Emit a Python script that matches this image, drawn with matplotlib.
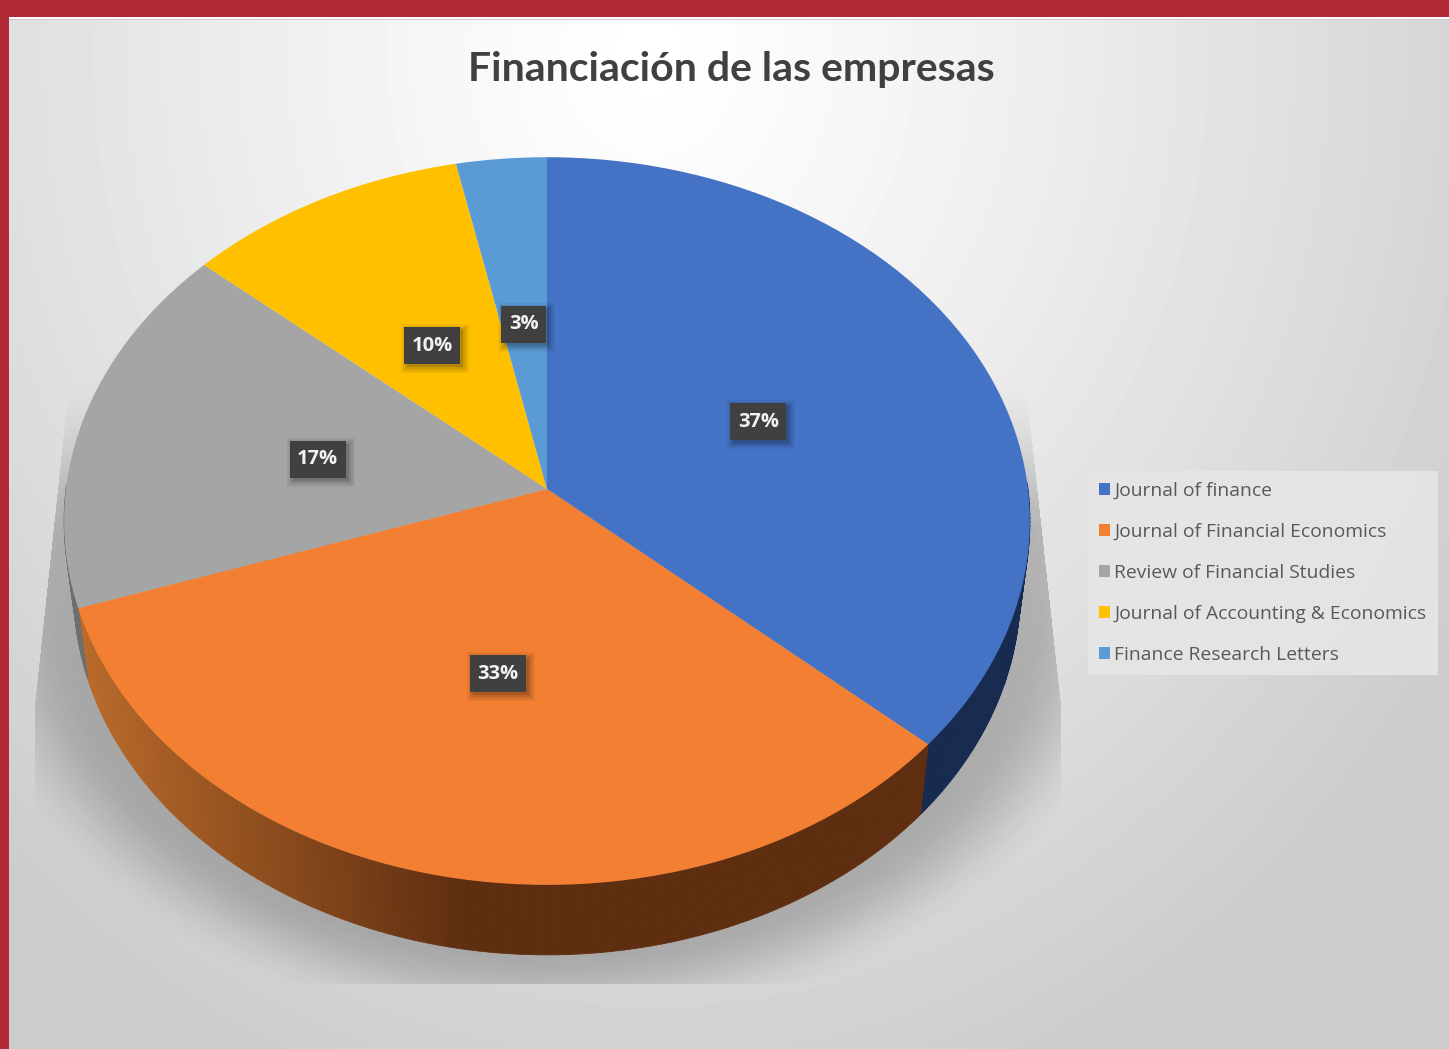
import numpy as np
import matplotlib
matplotlib.use("Agg")
import matplotlib.pyplot as plt
from matplotlib.transforms import Transform
from matplotlib.collections import PolyCollection
from matplotlib.patches import Rectangle
from matplotlib.colors import to_rgb

W, H = 1449, 1049

# ---- data ----
title = "Financiación de las empresas"
journals = ["Journal of finance", "Journal of Financial Economics",
            "Review of Financial Studies", "Journal of Accounting & Economics",
            "Finance Research Letters"]
shares = [36.6, 33.2, 16.6, 10.3, 3.3]
colors = ["#4472C4", "#F27F32", "#A5A5A5", "#FFC000", "#5B9BD5"]
side_colors = ["#172B50", "#5F2E10", "#6E6E6E", "#8A6A00", "#2F5F8F"]

# ---- geometry of the tilted pie (pixels) ----
CX, CY, RX, RY, K = 547.0, 489.0, 481.0, 361.0, 0.088
DEPTH, SHRINK = 70.0, 0.98


def project(x, y, shrink=1.0, drop=0.0):
    d = 1 + K * y
    return CX + shrink * RX * x / d, CY - RY * y / d + drop


class Tilt(Transform):
    input_dims = 2
    output_dims = 2
    is_separable = False
    has_inverse = False

    def transform_non_affine(self, values):
        v = np.asarray(values, float)
        px, py = project(v[:, 0], v[:, 1])
        return np.column_stack([px, py])


fig = plt.figure(figsize=(W / 100, H / 100), dpi=100)
ax = fig.add_axes([0, 0, 1, 1])

# ---- backdrop gradient ----
yy, xx = np.mgrid[0:H, 0:W]
dist = np.sqrt(((xx - 650) / 950.0) ** 2 + ((yy - 55) / 1100.0) ** 2)
grey = np.clip(1.0 - 0.2 * dist ** 1.2, 0.80, 1)
ax.imshow(grey, cmap="gray", vmin=0, vmax=1, extent=(0, W, H, 0),
          zorder=0, aspect="auto", interpolation="bilinear")

# ---- soft floor shadow ----
def smooth(a, b, v):
    t = np.clip((v - a) / (b - a), 0, 1)
    return t * t * (3 - 2 * t)

d = np.sqrt(((xx - 547) / 545.0) ** 2 + ((yy - 600) / 395.0) ** 2)
alpha = 0.22 * (1 - smooth(0.88, 1.1, d)) * smooth(360, 540, yy)
left = np.interp(yy, [390, 700, 983], [68, 35, 35])
right = np.interp(yy, [390, 700, 983], [1026, 1060, 1060])
alpha[(xx < left) | (xx > right) | (yy > 983)] = 0
shadow = np.zeros((H, W, 4))
shadow[..., 3] = alpha
ax.imshow(shadow, extent=(0, W, H, 0), zorder=1, aspect="auto")

# ---- pie top face ----
wedges, _ = ax.pie(shares, colors=colors, startangle=90, counterclock=False,
                   radius=1, wedgeprops=dict(linewidth=0, zorder=4))
tilt = Tilt()
for w in wedges:
    w.set_transform(tilt + ax.transData)
    w.set_zorder(4)

# ---- pie side wall, strip by strip from the shares ----
fracs = np.array(shares, float) / sum(shares)
edges = np.concatenate([[0], np.cumsum(fracs)])
polys, fills = [], []
orange_left, orange_right = np.array(to_rgb("#BB6B2B")), np.array(to_rgb(side_colors[1]))
for i in range(len(shares)):
    ts = np.linspace(edges[i], edges[i + 1], max(8, int(600 * fracs[i])) + 1)
    ang = np.pi / 2 - 2 * np.pi * ts
    x, y = np.cos(ang), np.sin(ang)
    ux, uy = project(x, y)
    lx, ly = project(x, y, SHRINK, DEPTH)
    for j in range(len(ts) - 1):
        if y[j] > 0.02 or y[j + 1] > 0.02:
            continue
        polys.append([(ux[j], uy[j]), (ux[j + 1], uy[j + 1]),
                      (lx[j + 1], ly[j + 1]), (lx[j], ly[j])])
        if i == 1:
            t = np.clip((lx[j] - 85) / (465 - 85), 0, 1)
            fills.append(orange_left * (1 - t) + orange_right * t)
        else:
            fills.append(to_rgb(side_colors[i]))
ax.add_collection(PolyCollection(polys, facecolors=fills, edgecolors=fills,
                                 linewidths=0.6, zorder=3))

ax.set_aspect("auto")
ax.set_xlim(0, W)
ax.set_ylim(H, 0)
ax.set_axis_off()

# ---- value labels ----
renderer = fig.canvas.get_renderer()
mids = (edges[:-1] + edges[1:]) / 2
for share, m in zip(shares, mids):
    a = np.pi / 2 - 2 * np.pi * m
    px, py = project(0.49 * np.cos(a), 0.49 * np.sin(a))
    py += 4
    t = ax.text(px, py, f"{share:.0f}%", ha="center", va="center", color="#F2F2F2",
                fontsize=14.5, fontweight="bold", family="Open Sans", zorder=6)
    bw = t.get_window_extent(renderer).width + 15
    bh = 37
    for grow, al in ((6, 0.05), (4, 0.07), (2, 0.09), (0, 0.12)):
        ax.add_patch(Rectangle((px - bw / 2 + 3 - grow, py - bh / 2 + 3 - grow),
                               bw + 2 * grow, bh + 2 * grow, fc="black", ec="none",
                               alpha=al, zorder=4.5))
    ax.add_patch(Rectangle((px - bw / 2, py - bh / 2), bw, bh, fc="#404040",
                           ec="none", zorder=5))

# ---- frame: red slide edge ----
ax.add_patch(Rectangle((0, 0), 9, H, fc="#B22A35", ec="none", zorder=8))
ax.add_patch(Rectangle((0, 0), W, 17, fc="#B22A35", ec="none", zorder=8))
ax.add_patch(Rectangle((9, 18.5), W, 1.6, fc="#C9C9C9", ec="none", zorder=7))
ax.add_patch(Rectangle((9, 17), W, 1.5, fc="#FFFFFF", ec="none", zorder=7))

# ---- title ----
ax.text(731, 69, title, ha="center", va="center", fontsize=29.5, fontweight="bold",
        family="Lato", color="#404040", zorder=7)

# ---- legend ----
leg = ax.legend(wedges, journals, loc="upper left",
                bbox_to_anchor=(1088 / W, 1 - 471 / H), bbox_transform=ax.transAxes,
                prop=dict(family="Open Sans", size=13.9), labelcolor="#595959",
                frameon=True, fancybox=False, facecolor="#E6E6E6", edgecolor="none",
                framealpha=0.9, handlelength=0.58, handleheight=0.58, handletextpad=0.2,
                labelspacing=1.185, borderpad=0.58, borderaxespad=0)
leg.set_zorder(6)

fig.savefig("out.png", dpi=100)
